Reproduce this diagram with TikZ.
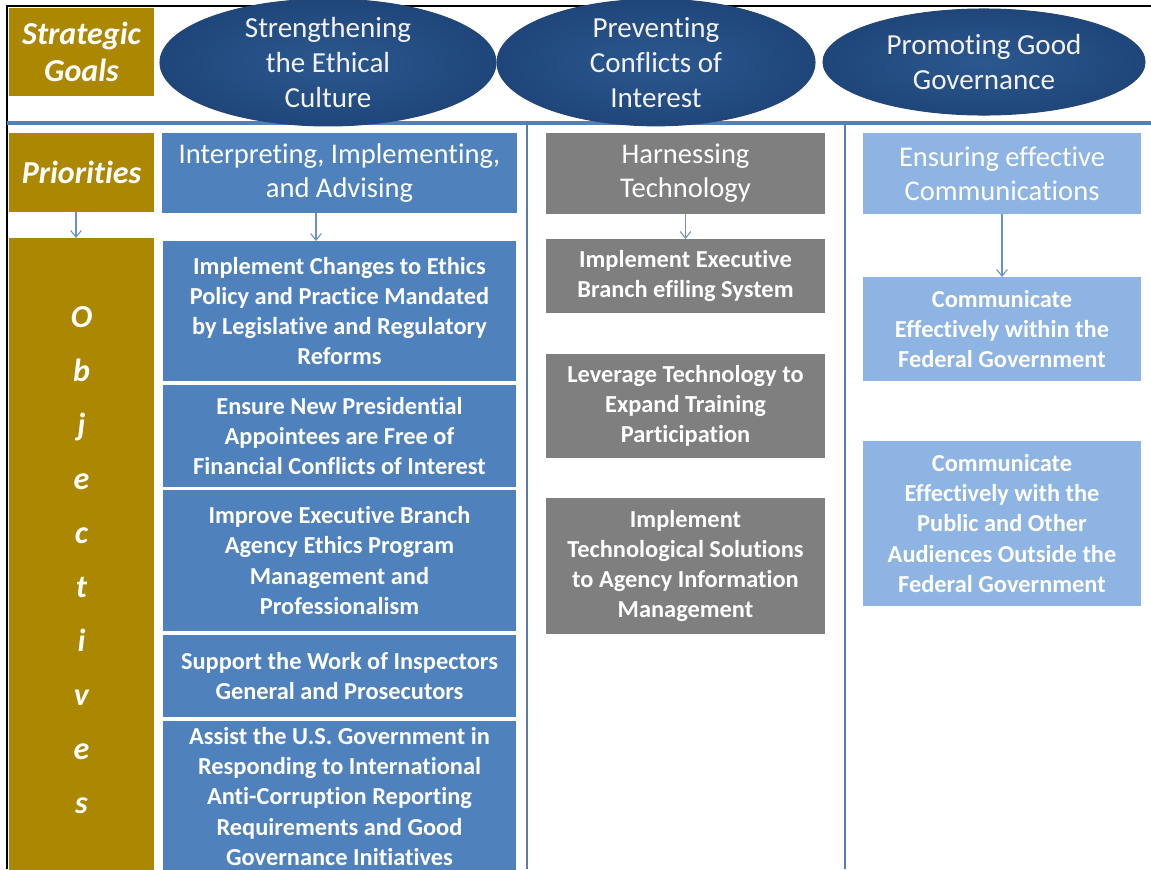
\documentclass[tikz,border=0pt]{standalone}
\usepackage{fontspec}
\setmainfont{Carlito}[Ligatures={NoCommon,NoContextual}]
\usetikzlibrary{arrows.meta,shapes.geometric}

\definecolor{gold}{RGB}{172,135,2}
\definecolor{midblue}{RGB}{79,129,189}
\definecolor{ellin}{RGB}{44,88,143}
\definecolor{ellout}{RGB}{31,70,122}
\definecolor{ellrim}{RGB}{40,70,115}
\definecolor{techgray}{RGB}{127,127,127}
\definecolor{paleblue}{RGB}{141,180,226}
\definecolor{arrowblue}{RGB}{105,145,198}
\definecolor{sepblue}{RGB}{88,125,172}
\definecolor{paletext}{RGB}{242,242,246}

% box by its corners: name, x1, y1, x2, y2, style, text
\newcommand\cornerbox[7]{%
  \node[#6, minimum width={(#4-#2)*0.75pt}, minimum height={(#5-#3)*0.75pt}]
    (#1) at ({(#2+#4)/2},{(#3+#5)/2}) {#7};}

\tikzset{
  every node/.style={inner sep=0pt, outer sep=0pt, align=center},
  goalbox/.style={rectangle, fill=gold, text=white,
    font=\bfseries\itshape\fontsize{24}{28}\selectfont},
  goalell/.style={ellipse, shade, inner color=ellin, outer color=ellout,
    draw=ellrim, line width=0.8pt, text=paletext,
    font=\fontsize{21.8}{26}\selectfont},
  prio/.style={rectangle, text=white, font=\fontsize{21.4}{25.5}\selectfont},
  objbox/.style={rectangle, text=white, font=\bfseries\fontsize{18.3}{22.7}\selectfont},
  ethics/.style={fill=midblue},
  tech/.style={fill=techgray},
  comms/.style={fill=paleblue},
  arr/.style={draw=arrowblue, line width=0.8pt,
    -{Straight Barb[length=5pt,width=8pt]}},
}

\begin{document}
\begin{tikzpicture}[x=0.75pt, y=-0.75pt]
\useasboundingbox (0,0) rectangle (1151,869);
\clip (0,0) rectangle (1151,869);
\fill[white] (0,0) rectangle (1151,869);

% frame and rules
\draw[black, line width=1.5pt] (7,869) -- (7,6) -- (1151,6);
\draw[midblue, line width=2.4pt] (7,123) -- (1151,123);
\draw[sepblue, line width=0.9pt] (527,124) -- (527,869);
\draw[sepblue, line width=0.9pt] (845,124) -- (845,869);

% row headings
\cornerbox{goals}{9}{8}{154}{96}{goalbox}{Strategic\\Goals}
\cornerbox{prios}{9}{133}{154}{212}{goalbox}{Priorities}
\cornerbox{objs}{9}{238}{154}{882}{goalbox, font=\bfseries\itshape\fontsize{24}{40.5}\selectfont}%
  {O\\b\\j\\e\\c\\t\\i\\v\\e\\s}

% strategic goals
\cornerbox{g1}{160}{9}{496}{116}{goalell}{Strengthening\\the Ethical\\Culture}
\cornerbox{g2}{497}{9}{815}{116}{goalell}{Preventing\\Conflicts of\\Interest}
\cornerbox{g3}{823}{9}{1145}{115}{goalell}{Promoting Good\\Governance}

% priorities
\cornerbox{p1}{162}{133}{517}{213}{prio, ethics}{Interpreting, Implementing,\\and Advising}
\cornerbox{p2}{546}{133}{825}{214}{prio, tech}{Harnessing\\Technology}
\cornerbox{p3}{863}{133}{1141}{214}{prio, comms}{Ensuring effective\\Communications}

% objectives: ethical culture
\cornerbox{e1}{163}{241}{516}{381}{objbox, ethics}{Implement Changes to Ethics\\Policy and Practice Mandated\\by Legislative and Regulatory\\Reforms}
\cornerbox{e2}{163}{385}{516}{487}{objbox, ethics}{Ensure New Presidential\\Appointees are Free of\\Financial Conflicts of Interest}
\cornerbox{e3}{163}{490}{516}{631}{objbox, ethics}{Improve Executive Branch\\Agency Ethics Program\\Management and\\Professionalism}
\cornerbox{e4}{163}{635}{516}{717}{objbox, ethics}{Support the Work of Inspectors\\General and Prosecutors}
\cornerbox{e5}{163}{721}{516}{872}{objbox, ethics}{Assist the U.S. Government in\\Responding to International\\Anti-Corruption Reporting\\Requirements and Good\\Governance Initiatives}

% objectives: technology
\cornerbox{t1}{546}{239}{825}{313}{objbox, tech}{Implement Executive\\Branch efiling System}
\cornerbox{t2}{546}{354}{825}{458}{objbox, tech}{Leverage Technology to\\Expand Training\\Participation}
\cornerbox{t3}{546}{498}{825}{634}{objbox, tech}{Implement\\Technological Solutions\\to Agency Information\\Management}

% objectives: communications
\cornerbox{c1}{863}{277}{1141}{381}{objbox, comms}{Communicate\\Effectively within the\\Federal Government}
\cornerbox{c2}{863}{441}{1141}{606}{objbox, comms}{Communicate\\Effectively with the\\Public and Other\\Audiences Outside the\\Federal Government}

% connectors
\coordinate (lane0) at (76,0);
\coordinate (lane1) at (316,0);
\draw[arr] (prios.south -| lane0) -- (objs.north -| lane0);
\draw[arr] (p1.south -| lane1) -- (e1.north -| lane1);
\draw[arr] (p2.south) -- (t1.north);
\draw[arr] (p3.south) -- (c1.north);
\end{tikzpicture}
\end{document}
